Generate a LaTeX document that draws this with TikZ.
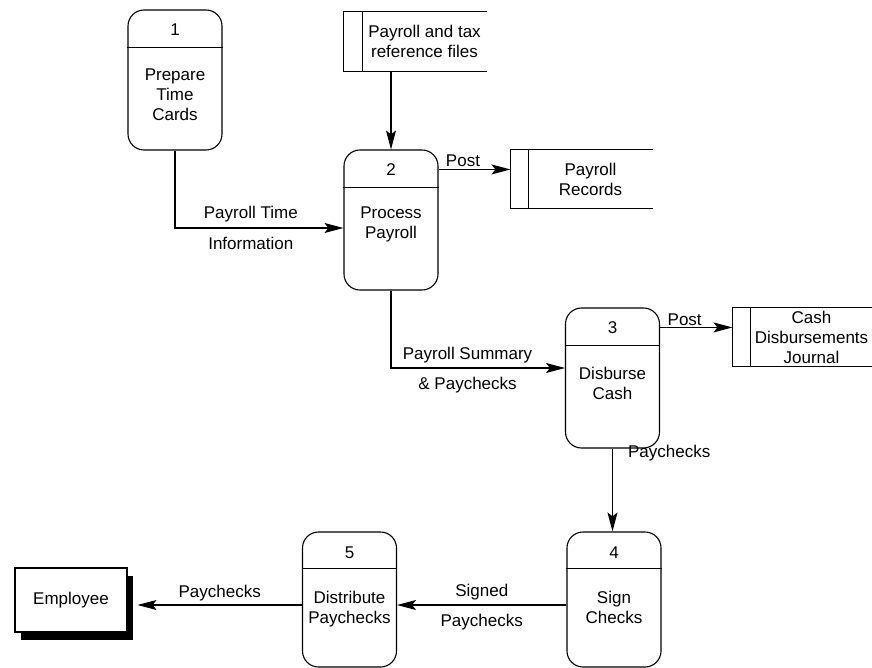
\documentclass[tikz,border=0pt]{standalone}
\usepackage{fontspec}
\setmainfont{Liberation Sans}
\usetikzlibrary{positioning,arrows.meta,shadows}

\begin{document}
\begin{tikzpicture}[x=1pt,y=-1pt,>={Stealth[length=19pt,width=10pt,inset=4pt]},
  font=\fontsize{17}{20}\selectfont, line width=1.1pt,
  proc/.style={draw, rounded corners=16pt, minimum width=94pt, inner sep=0pt},
  ptext/.style={align=center, anchor=north, inner sep=0pt},
  store/.style={inner sep=0pt},
  ext/.style={draw, fill=white, inner sep=0pt,
    drop shadow={shadow xshift=6pt, shadow yshift=-8pt, opacity=1, fill=black}},
  lbl/.style={inner sep=0pt, text height=12pt, text depth=0pt},
  flow/.style={->}]

  \useasboundingbox (0,0) rectangle (872,668);

  % Processes
  \node[proc, minimum height=140pt] (p1) at (175,80) {};
  \node[proc, minimum height=140pt] (p2) at (391,220) {};
  \node[proc, minimum height=140pt] (p3) at (612.5,378) {};
  \node[proc, minimum height=135pt] (p4) at (614,599.5) {};
  \node[proc, minimum height=135pt] (p5) at (349.5,599.5) {};

  % Dividers
  \draw ([yshift=-38pt]p1.north west) -- ([yshift=-38pt]p1.north east);
  \draw ([yshift=-38pt]p2.north west) -- ([yshift=-38pt]p2.north east);
  \draw ([yshift=-38pt]p3.north west) -- ([yshift=-38pt]p3.north east);
  \draw ([yshift=-37pt]p4.north west) -- ([yshift=-37pt]p4.north east);
  \draw ([yshift=-37pt]p5.north west) -- ([yshift=-37pt]p5.north east);

  % Numbers
  \node (n1) at ([yshift=-20pt]p1.north) {1};
  \node (n2) at ([yshift=-20pt]p2.north) {2};
  \node (n3) at ([yshift=-20pt]p3.north) {3};
  \node (n4) at ([yshift=-21pt]p4.north) {4};
  \node (n5) at ([yshift=-21pt]p5.north) {5};

  % Process names
  \node[ptext] (t1) at ([yshift=-59pt]p1.north) {Prepare\\Time\\Cards};
  \node[ptext] (t2) at ([yshift=-57pt]p2.north) {Process\\Payroll};
  \node[ptext] (t3) at ([yshift=-59pt]p3.north) {Disburse\\Cash};
  \node[ptext] (t4) at ([yshift=-59pt]p4.north) {Sign\\Checks};
  \node[ptext] (t5) at ([yshift=-59pt]p5.north) {Distribute\\Paychecks};

  % Data stores
  \node[store, minimum width=142pt, minimum height=59pt] (st1) at (415,41.5) {};
  \node[store, minimum width=141pt, minimum height=58pt] (st2) at (581.5,179) {};
  \node[store, minimum width=139pt, minimum height=58pt] (st3) at (802.5,337) {};
  \node[align=center, inner sep=0pt] (s1) at ([xshift=9.5pt]st1.center) {Payroll and tax\\reference files};
  \node[align=center, inner sep=0pt] (s2) at ([xshift=9pt]st2.center) {Payroll\\Records};
  \node[align=center, inner sep=0pt] (s3) at ([xshift=9pt]st3.center) {Cash\\Disbursements\\Journal};
  \draw (st1.north east) -- (st1.north west) -- (st1.south west) -- (st1.south east);
  \draw ([xshift=19pt]st1.north west) -- ([xshift=19pt]st1.south west);
  \draw (st2.north east) -- (st2.north west) -- (st2.south west) -- (st2.south east);
  \draw ([xshift=18pt]st2.north west) -- ([xshift=18pt]st2.south west);
  \draw (st3.north east) -- (st3.north west) -- (st3.south west) -- (st3.south east);
  \draw ([xshift=18pt]st3.north west) -- ([xshift=18pt]st3.south west);

  % External entity
  \node[ext, minimum width=112pt, minimum height=64pt] (emp) at (71,600) {Employee};

  % Data flows
  \draw[flow] (p2.north |- st1.south) -- (p2.north);
  \draw[flow] (p1.south) |- ([yshift=-8pt]p2.west)
    node[lbl, pos=0.725, yshift=15pt] {Payroll Time}
    node[lbl, pos=0.725, yshift=-16pt] {Information};
  \draw[flow] (n2 -| p2.east) -- (n2 -| st2.west)
    node[lbl, pos=0.34, yshift=9pt] {Post};
  \draw[flow] (p2.south) |- ([yshift=10pt]p3.west)
    node[lbl, pos=0.72, yshift=15pt] {Payroll Summary}
    node[lbl, pos=0.72, yshift=-15pt] {\& Paychecks};
  \draw[flow] (n3 -| p3.east) -- (n3 -| st3.west)
    node[lbl, pos=0.34, yshift=8pt] {Post};
  \draw[flow] (p3.south) -- (p3.south |- p4.north)
    node[lbl, pos=0.03, anchor=west, xshift=15pt] {Paychecks};
  \draw[flow] ([yshift=-5.5pt]p4.west) -- ([yshift=-5.5pt]p5.east)
    node[lbl, pos=0.5, yshift=15pt] {Signed}
    node[lbl, pos=0.5, yshift=-15pt] {Paychecks};
  \draw[flow] ([yshift=-5.5pt]p5.west) -- ([yshift=-5pt,xshift=10pt]emp.east)
    node[lbl, pos=0.5, yshift=14pt] {Paychecks};

\end{tikzpicture}
\end{document}
